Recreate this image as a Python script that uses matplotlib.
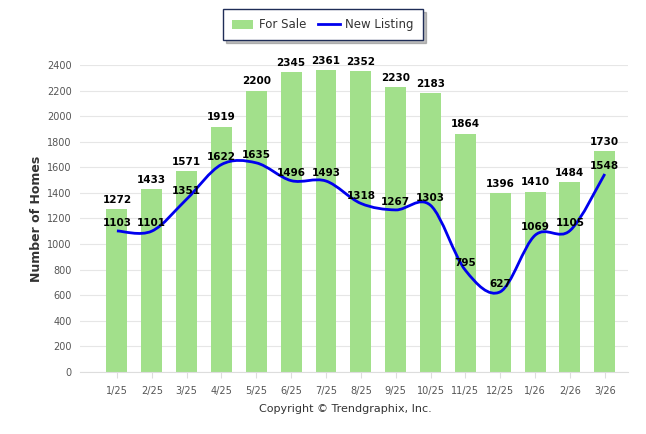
import numpy as np
import matplotlib
matplotlib.use("Agg")
import matplotlib.pyplot as plt
from matplotlib.path import Path
from matplotlib.patches import PathPatch, Patch
from matplotlib.lines import Line2D

months = ["1/25", "2/25", "3/25", "4/25", "5/25", "6/25", "7/25", "8/25",
          "9/25", "10/25", "11/25", "12/25", "1/26", "2/26", "3/26"]
for_sale = [1272, 1433, 1571, 1919, 2200, 2345, 2361, 2352, 2230, 2183,
            1864, 1396, 1410, 1484, 1730]
new_listing = [1103, 1101, 1351, 1622, 1635, 1496, 1493, 1318, 1267, 1303,
               795, 627, 1069, 1105, 1548]
y_ticks = list(range(0, 2401, 200))

BAR = "#a2e08b"
LINE = "#0000ee"


def spline_path(xs, ys):
    # catmull-rom as bezier segments, in data coords
    n = len(xs)
    pts = list(zip(xs, ys))
    verts = [pts[0]]
    codes = [Path.MOVETO]
    for i in range(n - 1):
        p0 = pts[i - 1] if i > 0 else pts[i]
        p1 = pts[i]
        p2 = pts[i + 1]
        p3 = pts[i + 2] if i + 2 < n else pts[i + 1]
        c1 = (p1[0] + (p2[0] - p0[0]) / 6, p1[1] + (p2[1] - p0[1]) / 6)
        c2 = (p2[0] - (p3[0] - p1[0]) / 6, p2[1] - (p3[1] - p1[1]) / 6)
        verts += [c1, c2, p2]
        codes += [Path.CURVE4] * 3
    return Path(verts, codes)


fig = plt.figure(figsize=(6.46, 4.34), dpi=100)
ax = fig.add_axes([0.1238, 0.1429, 0.848, 0.7073])

x = np.arange(len(months))
ax.bar(x, for_sale, width=0.6, color=BAR, zorder=2)
ax.add_patch(PathPatch(spline_path(list(x), new_listing), facecolor="none",
                       edgecolor=LINE, lw=2, zorder=3))

for xi, v in zip(x, for_sale):
    ax.annotate(str(v), (xi, v), xytext=(0, 3), textcoords="offset points",
                ha="center", va="bottom", fontsize=7.5, fontweight="bold",
                color="black", zorder=5, annotation_clip=False)
for xi, v in zip(x, new_listing):
    ax.annotate(str(v), (xi, v), xytext=(0, 2), textcoords="offset points",
                ha="center", va="bottom", fontsize=7.5, fontweight="bold",
                color="black", zorder=5, annotation_clip=False)

ax.set_xlim(-1.06, 14.66)
ax.set_ylim(0, 2400)
ax.set_yticks(y_ticks)
ax.set_yticklabels([str(t) for t in y_ticks])
ax.set_xticks(x)
ax.set_xticklabels(months)
ax.grid(axis="y", color="#e6e6e6", lw=0.8, zorder=0)
ax.set_axisbelow(True)
for s in ["top", "right", "left"]:
    ax.spines[s].set_visible(False)
ax.spines["bottom"].set_color("#dddddd")
ax.tick_params(axis="y", length=0, labelsize=7, labelcolor="#555555", pad=6)
ax.tick_params(axis="x", length=4, color="#dddddd", labelsize=7,
               labelcolor="#555555", pad=6)

ax.set_ylabel("Number of Homes", fontsize=9, fontweight="bold", color="#333333",
              labelpad=3)
fig.text(0.535, 0.057, "Copyright \u00a9 Trendgraphix, Inc.", ha="center",
         va="center", fontsize=8, color="#333333")

handles = [Patch(facecolor=BAR, edgecolor="none"),
           Line2D([0], [0], color=LINE, lw=2)]
leg = fig.legend(handles, ["For Sale", "New Listing"], loc="center",
                 bbox_to_anchor=(0.5, 0.943), ncol=2, frameon=True,
                 fancybox=False, shadow={"ox": 2, "oy": -2, "alpha": 0.35},
                 fontsize=8.5, handlelength=1.8, handleheight=0.8,
                 handletextpad=0.5, columnspacing=1.0, borderpad=0.75,
                 borderaxespad=0)
leg.get_frame().set_edgecolor("#1f2d57")
leg.get_frame().set_linewidth(1.0)
for t in leg.get_texts():
    t.set_color("#333333")

fig.savefig("out.png", dpi=100)
